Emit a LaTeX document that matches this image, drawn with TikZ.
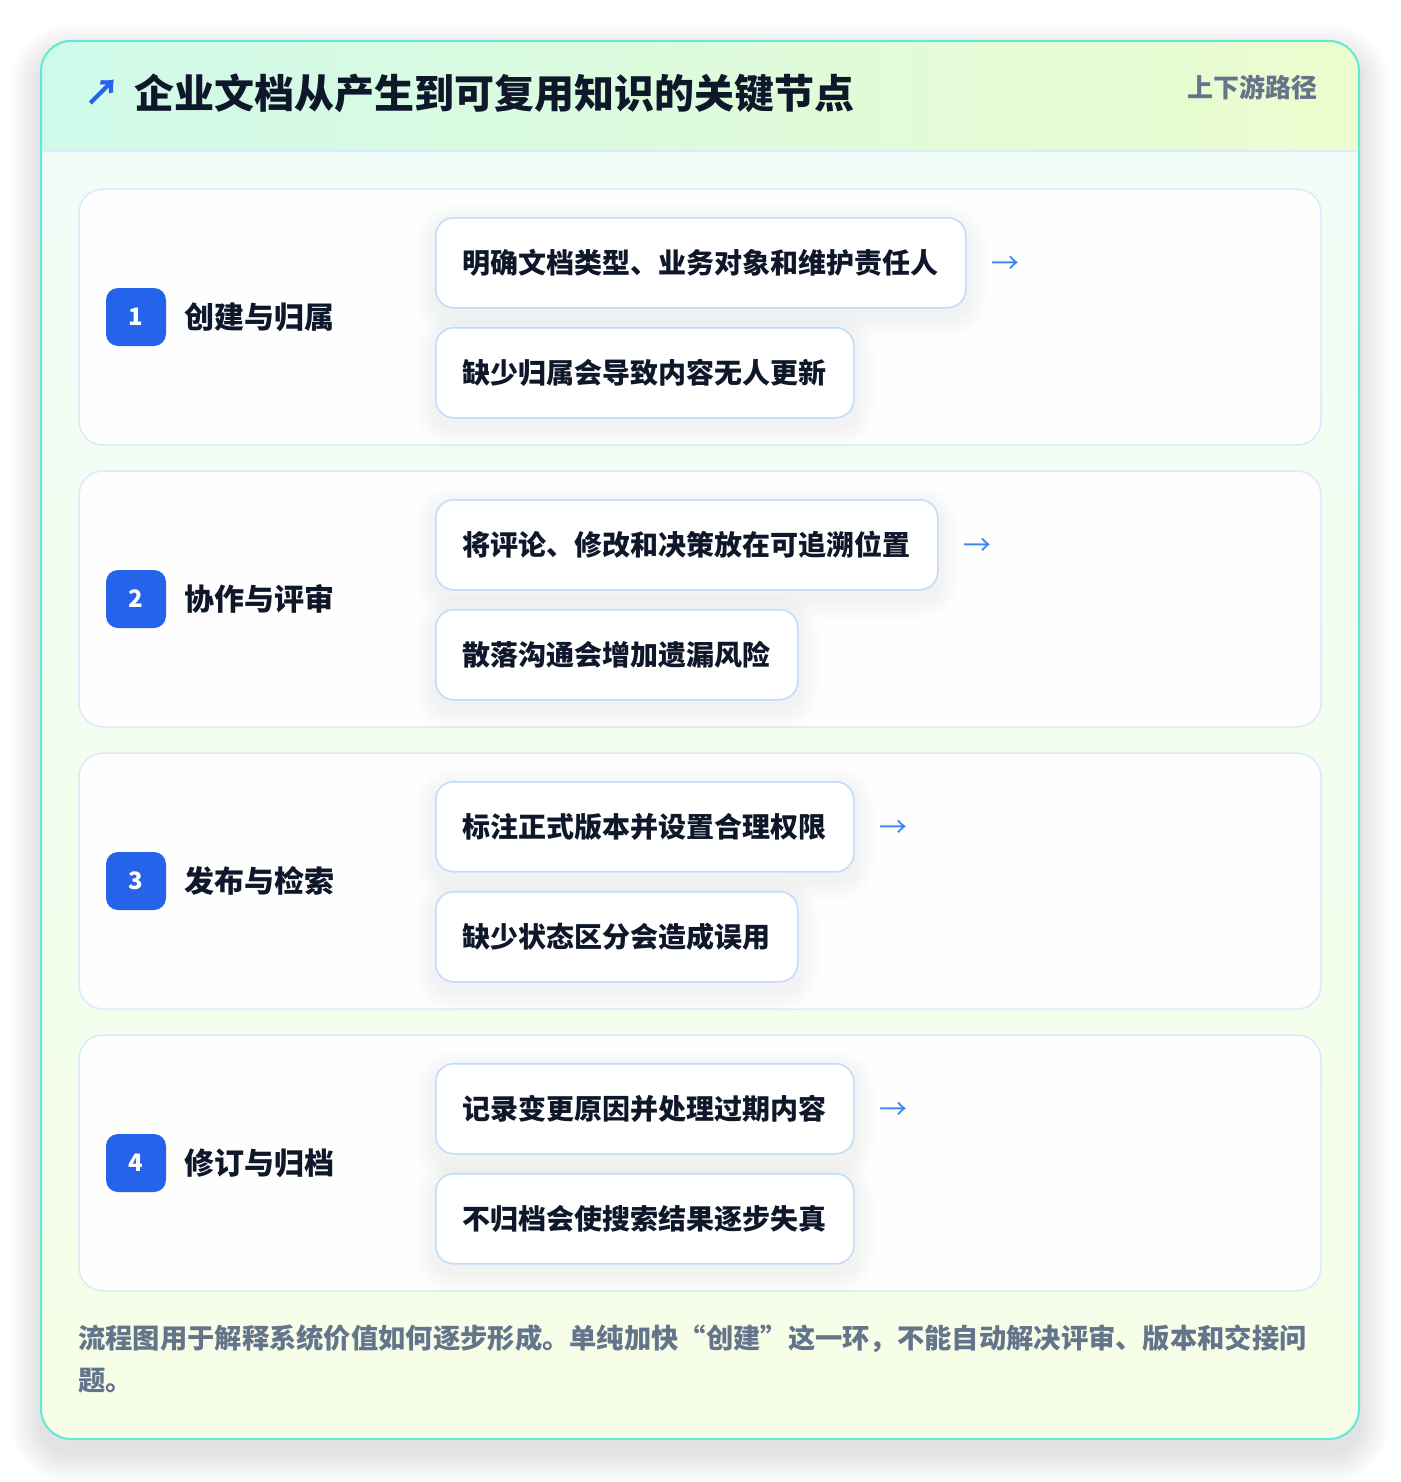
\documentclass[tikz,border=0pt]{standalone}
\usepackage{fontspec}
\setmainfont{Noto Sans CJK SC}
\definecolor{ink}{RGB}{15,23,42}
\definecolor{slatec}{RGB}{100,116,139}
\definecolor{badgeblue}{RGB}{37,99,235}
\definecolor{arrowblue}{RGB}{59,130,246}
\definecolor{boxline}{RGB}{191,219,254}
\definecolor{cardline}{RGB}{219,234,254}
\definecolor{outerline}{RGB}{94,234,212}
\definecolor{headl}{RGB}{207,250,234}
\definecolor{headr}{RGB}{236,252,206}
\definecolor{bodytop}{RGB}{240,253,248}
\definecolor{bodybot}{RGB}{246,254,231}
\pgfdeclarelayer{backlayer}
\pgfdeclarelayer{shadelayer}
\pgfsetlayers{backlayer,shadelayer,main}
\tikzset{
  stepcard/.style={draw=cardline, line width=1.5pt, fill=white, fill opacity=0.9, rounded corners=24pt},
  badge/.style={fill=badgeblue, rounded corners=12pt, minimum width=60pt, minimum height=58pt, inner sep=0pt,
     text=white, font=\fontsize{24}{28}\selectfont\bfseries},
  steptitle/.style={anchor=west, inner sep=0pt, text=ink, font=\fontsize{30}{36}\selectfont\bfseries},
  subbox/.style={draw=boxline, line width=1.5pt, fill=white, rounded corners=18pt, anchor=north west,
     minimum height=90pt, inner xsep=27pt, inner ysep=0pt, text=ink, font=\fontsize{28}{34}\selectfont\bfseries},
  flowarrow/.style={anchor=west, inner sep=0pt, text=arrowblue, font=\fontsize{28}{34}\selectfont},
  footnote/.style={anchor=west, inner sep=0pt, text=slatec, font=\fontsize{27.3}{42}\selectfont\bfseries},
}
% soft drop shadow under a named node (drawn on the shadow layer)
\newcommand{\boxshadow}[1]{%
  \begin{pgfonlayer}{shadelayer}
  \foreach \i in {1,...,12}{%
    \pgfmathsetmacro{\ee}{\i*1.8}%
    \pgfmathsetmacro{\rr}{18+\i*1.8}%
    \fill[black, opacity=0.0055, rounded corners=\rr pt]
      ([xshift=-\ee pt, yshift=\ee pt-8pt]#1.north west) rectangle ([xshift=\ee pt, yshift=-\ee pt-8pt]#1.south east);
  }%
  \end{pgfonlayer}}
\begin{document}
\begin{tikzpicture}[x=1pt,y=-1pt]
\useasboundingbox (0,0) rectangle (1400,1482);
\begin{pgfonlayer}{backlayer}
\fill[white] (0,0) rectangle (1400,1482);
% outer card shadow
\foreach \i in {1,...,14}{%
  \pgfmathsetmacro{\ee}{\i*2.2}%
  \pgfmathsetmacro{\rr}{30+\i*2.2}%
  \fill[black, opacity=0.006, rounded corners=\rr pt]
    (41-\ee,41-\ee+14) rectangle (1359+\ee,1439+\ee+14);
}
% outer card
\begin{scope}
\clip[rounded corners=30pt] (41,41) rectangle (1359,1439);
\shade[top color=bodytop, bottom color=bodybot] (41,41) rectangle (1359,1439);
\shade[left color=headl, right color=headr] (41,41) rectangle (1359,151);
\end{scope}
\draw[cardline, line width=1.5pt] (41,151) -- (1359,151);
\draw[outerline, line width=2pt, rounded corners=30pt] (41,41) rectangle (1359,1439);
% step cards
\draw[stepcard] (79,189) rectangle (1321,445);
\draw[stepcard] (79,471) rectangle (1321,727);
\draw[stepcard] (79,753) rectangle (1321,1009);
\draw[stepcard] (79,1035) rectangle (1321,1291);
\end{pgfonlayer}
% header
\node[anchor=west, inner sep=0pt, text=badgeblue, font=\fontsize{36}{40}\selectfont\bfseries] (ttlarrow) at (84,93) {↗};
\node[anchor=west, inner sep=0pt, text=ink, font=\fontsize{40}{48}\selectfont\bfseries] (title) at (134,93) {企业文档从产生到可复用知识的关键节点};
\node[anchor=east, inner sep=0pt, text=slatec, font=\fontsize{26}{30}\selectfont\bfseries] (tag) at (1318,87) {上下游路径};
% row 1
\node[badge] (b1) at (136,317) {1};
\node[steptitle] (t1) at (184,317) {创建与归属};
\node[subbox] (s1a) at (435,217) {明确文档类型、业务对象和维护责任人};
\node[subbox] (s1b) at (435,327) {缺少归属会导致内容无人更新};
\node[flowarrow] (a1) at ([xshift=25pt, yshift=-2pt]s1a.east) {→};
\boxshadow{s1a}\boxshadow{s1b}
% row 2
\node[badge] (b2) at (136,599) {2};
\node[steptitle] (t2) at (184,599) {协作与评审};
\node[subbox] (s2a) at (435,499) {将评论、修改和决策放在可追溯位置};
\node[subbox] (s2b) at (435,609) {散落沟通会增加遗漏风险};
\node[flowarrow] (a2) at ([xshift=25pt, yshift=-2pt]s2a.east) {→};
\boxshadow{s2a}\boxshadow{s2b}
% row 3
\node[badge] (b3) at (136,881) {3};
\node[steptitle] (t3) at (184,881) {发布与检索};
\node[subbox] (s3a) at (435,781) {标注正式版本并设置合理权限};
\node[subbox] (s3b) at (435,891) {缺少状态区分会造成误用};
\node[flowarrow] (a3) at ([xshift=25pt, yshift=-2pt]s3a.east) {→};
\boxshadow{s3a}\boxshadow{s3b}
% row 4
\node[badge] (b4) at (136,1163) {4};
\node[steptitle] (t4) at (184,1163) {修订与归档};
\node[subbox] (s4a) at (435,1063) {记录变更原因并处理过期内容};
\node[subbox] (s4b) at (435,1173) {不归档会使搜索结果逐步失真};
\node[flowarrow] (a4) at ([xshift=25pt, yshift=-2pt]s4a.east) {→};
\boxshadow{s4a}\boxshadow{s4b}
% footer
\node[footnote] (foot1) at (78,1339) {流程图用于解释系统价值如何逐步形成。单纯加快“创建”这一环，不能自动解决评审、版本和交接问};
\node[footnote] (foot2) at (78,1381) {题。};
\end{tikzpicture}
\end{document}
